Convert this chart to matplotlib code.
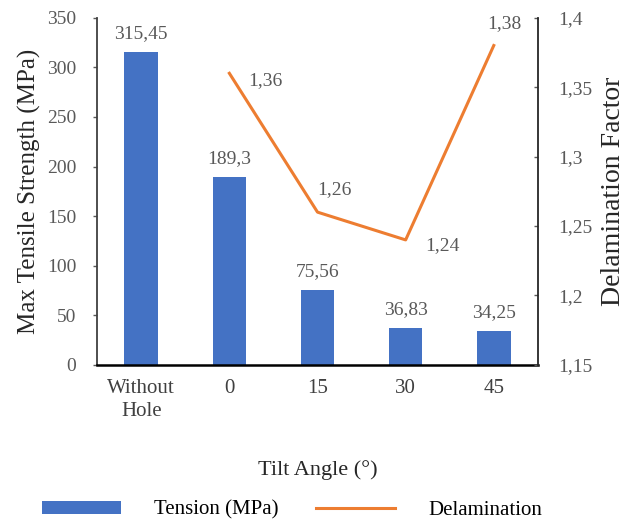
import matplotlib.pyplot as plt

# данные с графика
categories = ['Without\nHole', '0', '15', '30', '45']
tension = [315.45, 189.3, 75.56, 36.83, 34.25]
tension_labels = ['315,45', '189,3', '75,56', '36,83', '34,25']
delam_cats = [1, 2, 3, 4]
delamination = [1.36, 1.26, 1.24, 1.38]
delam_labels = ['1,36', '1,26', '1,24', '1,38']
left_ticks = [0, 50, 100, 150, 200, 250, 300, 350]
right_ticks = [1.15, 1.2, 1.25, 1.3, 1.35, 1.4]
right_tick_labels = ['1,15', '1,2', '1,25', '1,3', '1,35', '1,4']

plt.rcParams['font.family'] = ['Liberation Serif', 'DejaVu Serif']
blue = '#4472C4'
orange = '#ED7D31'
gray = '#595959'

fig = plt.figure(figsize=(6.35, 5.22), dpi=100)
ax = fig.add_axes([0.153, 0.301, 0.694, 0.665])
x = list(range(len(categories)))
bars = ax.bar(x, tension, width=0.38, color=blue, label='Tension (MPa)', zorder=2)
ax.set_xlim(-0.5, 4.5)
ax.set_ylim(0, 350)
ax.set_yticks(left_ticks)
ax.set_yticklabels([str(t) for t in left_ticks])
ax.set_xticks(x)
ax.set_xticklabels(categories, linespacing=1.3)
ax.tick_params(axis='y', colors=gray, labelsize=14, length=3, width=1, direction='out', pad=12)
ax.tick_params(axis='x', colors='black', labelsize=15, length=0, pad=10)
for lab in ax.get_xticklabels():
    lab.set_color('#404040')
ax.spines['top'].set_visible(False)
ax.spines['right'].set_visible(False)
ax.spines['left'].set_color('#404040')
ax.spines['left'].set_linewidth(1.3)
ax.spines['bottom'].set_color('black')
ax.spines['bottom'].set_linewidth(1.8)
ax.set_ylabel('Max Tensile Strength (MPa)', fontsize=18, color='#262626', labelpad=4)
ax.set_xlabel('Tilt Angle (°)', fontsize=16, color='#262626', labelpad=28)

for xi, v, t in zip(x, tension, tension_labels):
    ax.text(xi, v + 10, t, ha='center', va='bottom', fontsize=14, color=gray)

ax2 = ax.twinx()
ax2.plot(delam_cats, delamination, color=orange, linewidth=2.2, label='Delamination', zorder=3)
ax2.set_ylim(1.15, 1.4)
ax2.set_yticks(right_ticks)
ax2.set_yticklabels(right_tick_labels)
ax2.tick_params(axis='y', colors=gray, labelsize=14, length=3, width=1, direction='in', pad=15)
for s in ['top', 'left', 'bottom']:
    ax2.spines[s].set_visible(False)
ax2.spines['right'].set_color('#262626')
ax2.spines['right'].set_linewidth(1.3)
ax2.set_ylabel('Delamination Factor', fontsize=20, color='#262626', labelpad=6)

offsets = [(0.21, -0.005, 'left', 'center'), (0.19, 0.016, 'center', 'center'),
           (0.22, -0.004, 'left', 'center'), (0.12, 0.016, 'center', 'center')]
for xi, v, t, (dx, dy, ha, va) in zip(delam_cats, delamination, delam_labels, offsets):
    ax2.text(xi + dx, v + dy, t, ha=ha, va=va, fontsize=14, color=gray)

h1, l1 = ax.get_legend_handles_labels()
h2, l2 = ax2.get_legend_handles_labels()
fig.legend(h1 + h2, l1 + l2, loc='lower center', bbox_to_anchor=(0.46, -0.032), ncol=2,
           frameon=False, fontsize=15, handlelength=3.8, handleheight=0.55,
           columnspacing=1.8, handletextpad=1.6)

plt.savefig('out.png', dpi=100)
